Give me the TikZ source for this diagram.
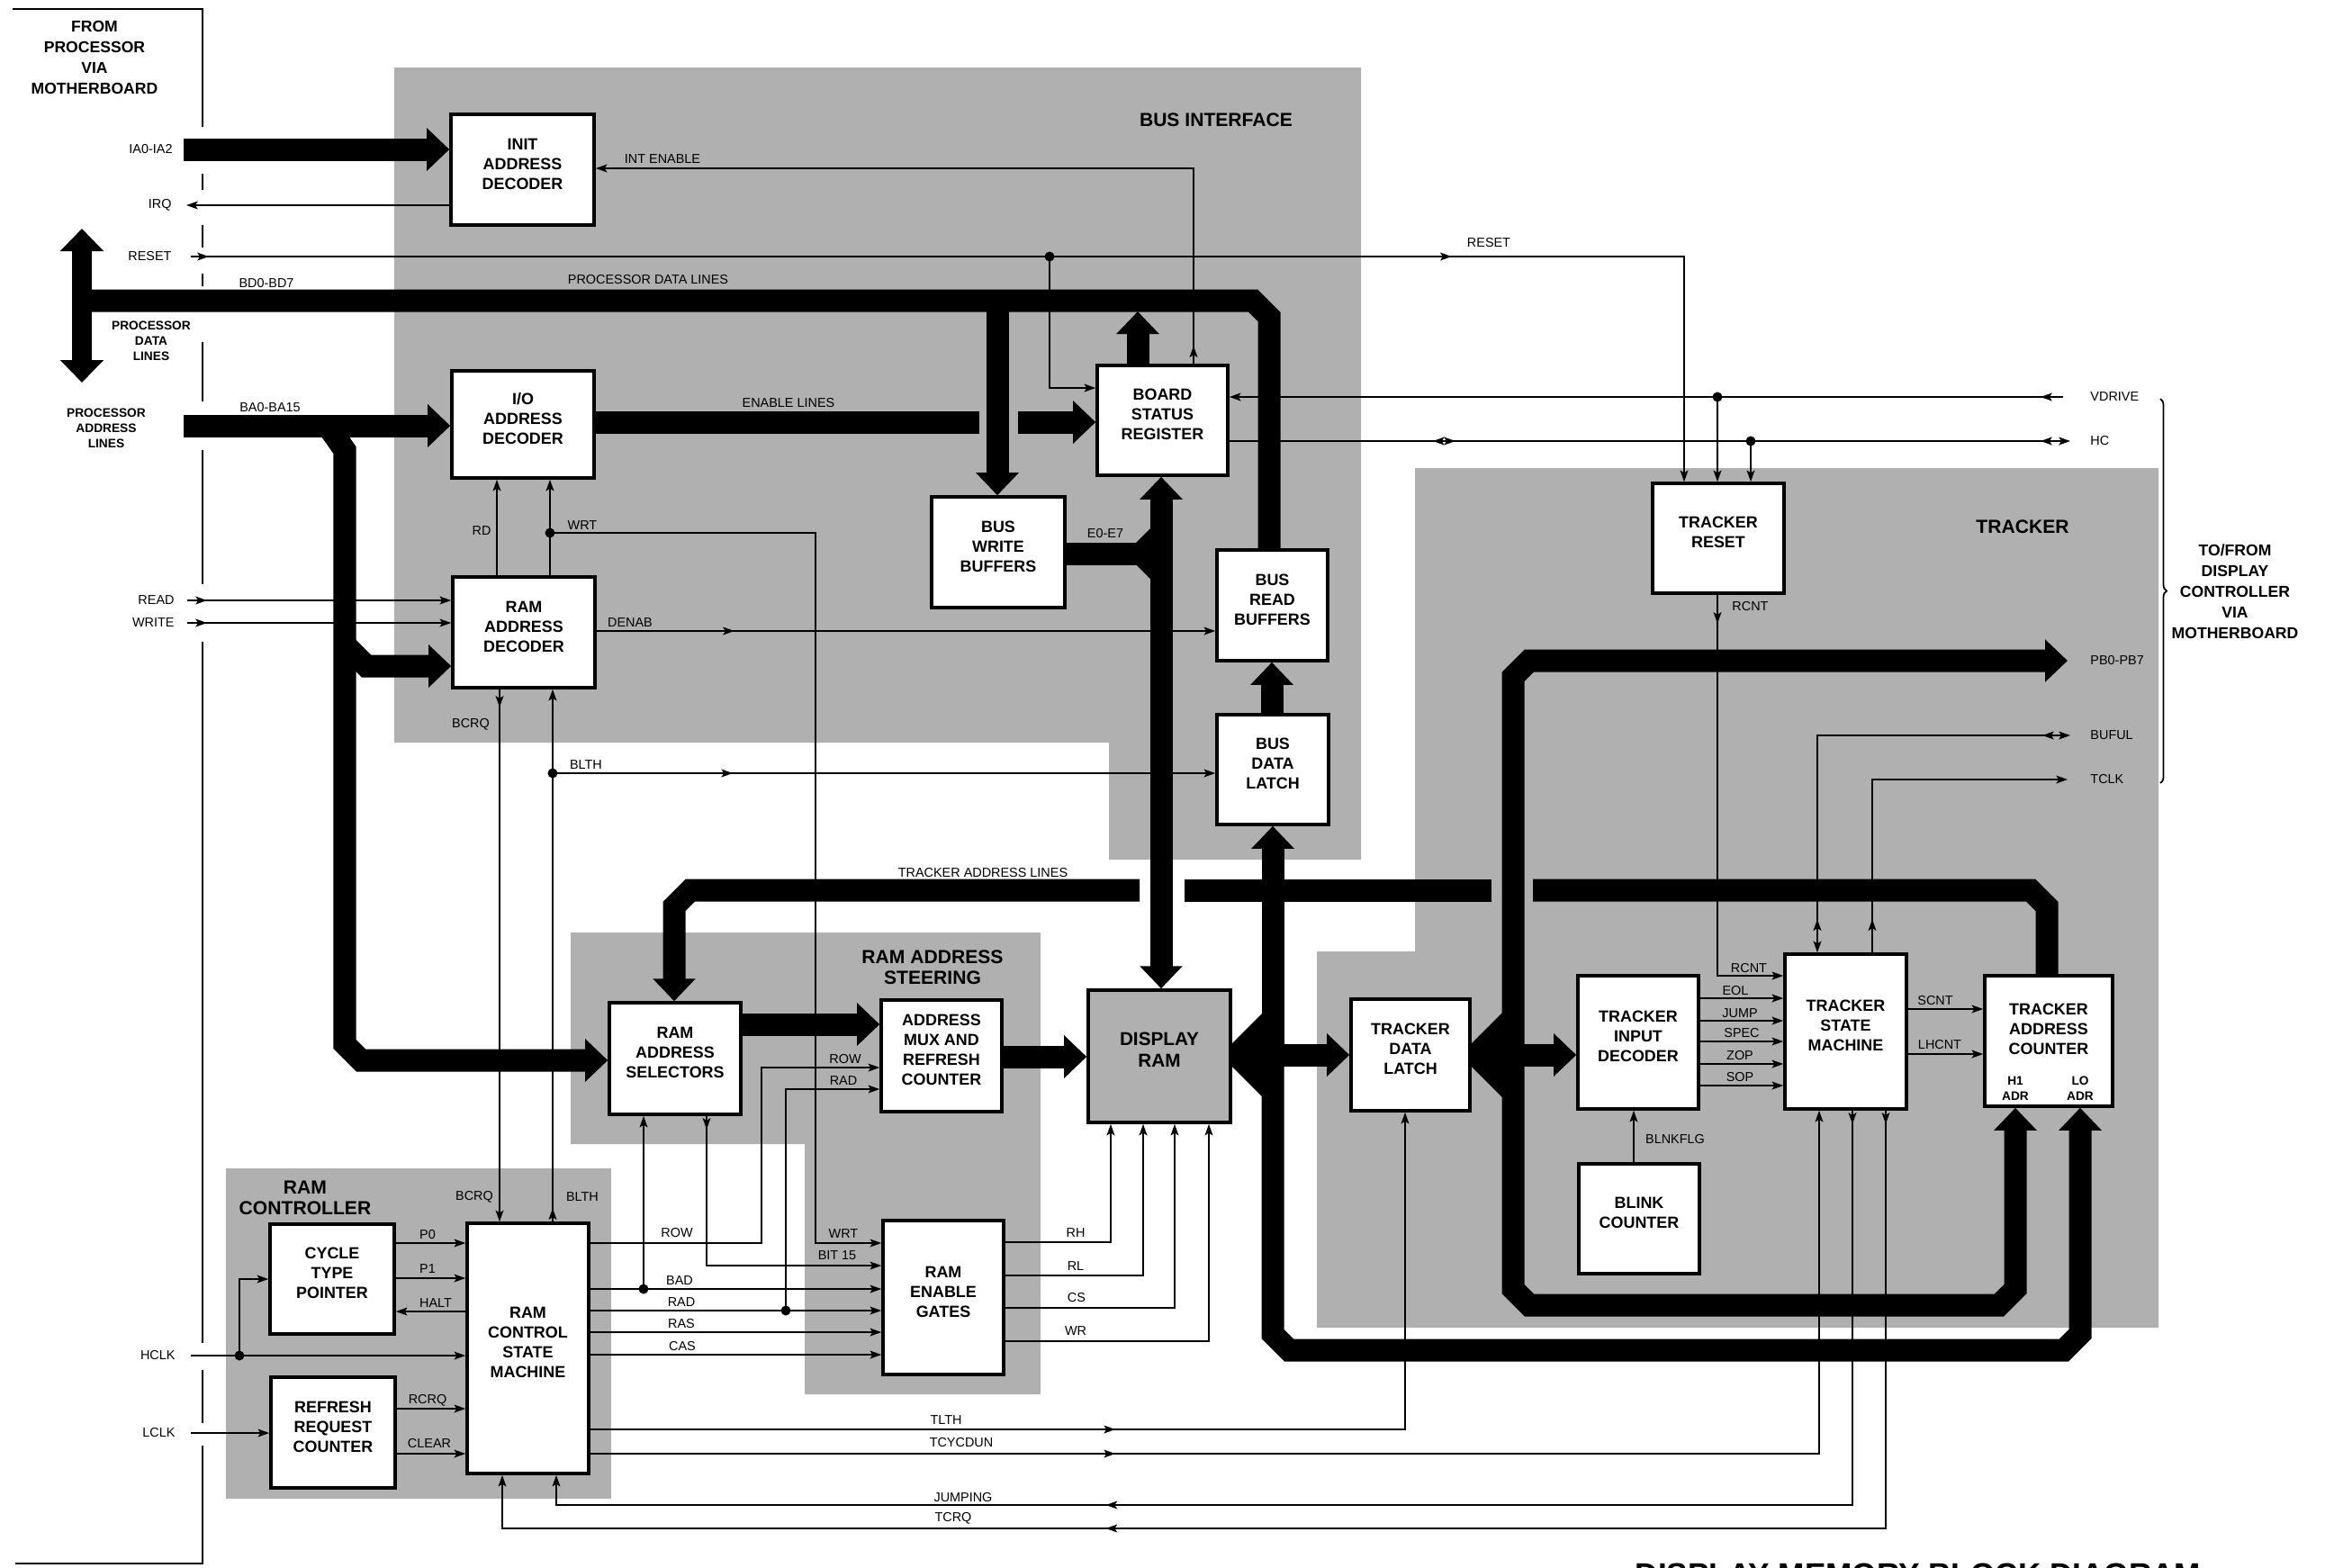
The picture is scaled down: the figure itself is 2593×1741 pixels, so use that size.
\documentclass[tikz,border=0pt]{standalone}
\usepackage{fontspec}
\setmainfont{Liberation Sans}
\usetikzlibrary{arrows.meta,fit,decorations.markings,decorations.pathreplacing}

\newcommand\boxfont{\fontsize{5.1}{6.25}\selectfont\bfseries}
\newcommand\ramfont{\fontsize{5.9}{6.8}\selectfont\bfseries}
\newcommand\sigfont{\fontsize{4.1}{4.9}\selectfont}
\newcommand\secfont{\fontsize{6}{6.6}\selectfont\bfseries}
\newcommand\sidefont{\fontsize{5}{6.5}\selectfont\bfseries}
\newcommand\tinybold{\fontsize{3.9}{4.8}\selectfont\bfseries}

\tikzset{
  panel/.style={fill=black!31},
  blk/.style={draw, line width=1pt, fill=white, inner sep=0pt, align=center, font=\boxfont},
  sig/.style={line width=0.5pt},
  edge/.style={line width=0.7pt},
  bus/.style={line width=0.25cm, line join=miter},
  bust/.style={bus, -{Triangle[width=0.46cm,length=0.25cm]}},
  busdbl/.style={bus, {Triangle[width=0.46cm,length=0.25cm]}-{Triangle[width=0.46cm,length=0.25cm]}},
  dot/.style={circle, fill, inner sep=0pt, minimum size=0.11cm},
  lbl/.style={font=\sigfont, inner sep=0.5pt},
  midarrow/.style={postaction={decorate,decoration={markings,mark=at position #1 with {\arrow{>}}}}},
  midback/.style={postaction={decorate,decoration={markings,mark=at position #1 with {\arrowreversed{>}}}}},
}

\begin{document}
\begin{tikzpicture}[x=0.01cm, y=-0.01cm, >={Stealth[length=3.6pt,width=2.5pt,inset=0.8pt]}]
\useasboundingbox (0,0) rectangle (2593,1741);
\fill[white] (0,0) rectangle (2593,1741);

% shaded sections
\fill[panel] (438,75) -- (1512,75) -- (1512,955) -- (1232,955) -- (1232,825) -- (438,825) -- cycle;
\fill[panel] (1572,520) -- (2398,520) -- (2398,1475) -- (1463,1475) -- (1463,1057) -- (1572,1057) -- cycle;
\fill[panel] (634,1036) -- (1156,1036) -- (1156,1549) -- (894,1549) -- (894,1271) -- (634,1271) -- cycle;
\fill[panel] (251,1298) rectangle (679,1665);

\node[font=\secfont] (t-bus) at (1351,133) {BUS INTERFACE};
\node[font=\secfont] (t-trk) at (2247,585) {TRACKER};
\node[font=\secfont, align=center] (t-steer) at (1036,1075) {RAM ADDRESS\\STEERING};
\node[font=\secfont, align=center] (t-ramc) at (339,1331) {RAM\\CONTROLLER};

% motherboard edge
\draw[edge] (14,10) -- (225,10) -- (225,141);
\foreach \a/\b in {193/211, 250/275, 304/318, 380/446, 500/649, 713/1492, 1522/1581}
  \draw[edge] (225,\a) -- (225,\b);
\draw[edge] (225,1606) -- (225,1737) -- (17,1737);

\node[font=\sidefont, align=center] (from) at (105,64) {FROM\\PROCESSOR\\VIA\\MOTHERBOARD};
\node[font=\sidefont, align=center] (tofrom) at (2483,657) {TO/FROM\\DISPLAY\\CONTROLLER\\VIA\\MOTHERBOARD};
\node[font=\tinybold, align=center] (pdl) at (168,379) {PROCESSOR\\DATA\\LINES};
\node[font=\tinybold, align=center] (pal) at (118,476) {PROCESSOR\\ADDRESS\\LINES};
\draw[sig, decorate, decoration={brace, amplitude=0.07cm}] (2400,443) -- (2400,870);

% blocks
\node[blk, fit={(501,127) (660,250)}] (initdec) {INIT\\ADDRESS\\DECODER};
\node[blk, fit={(502,412) (660,531)}] (iodec) {I/O\\ADDRESS\\DECODER};
\node[blk, fit={(503,641) (661,764)}] (ramdec) {RAM\\ADDRESS\\DECODER};
\node[blk, fit={(1219,406) (1364,528)}] (bsr) {BOARD\\STATUS\\REGISTER};
\node[blk, fit={(1035,552) (1183,675)}] (bwb) {BUS\\WRITE\\BUFFERS};
\node[blk, fit={(1352,611) (1475,734)}] (brb) {BUS\\READ\\BUFFERS};
\node[blk, fit={(1352,794) (1476,916)}] (bdl) {BUS\\DATA\\LATCH};
\node[blk, fit={(1836,537) (1982,659)}] (tres) {TRACKER\\RESET};
\node[blk, fill=black!31, font=\ramfont, fit={(1209,1100) (1367,1247)}] (dram) {DISPLAY\\RAM};
\node[blk, fit={(677,1114) (823,1238)}] (rasel) {RAM\\ADDRESS\\SELECTORS};
\node[blk, fit={(979,1111) (1113,1235)}] (amux) {ADDRESS\\MUX AND\\REFRESH\\COUNTER};
\node[blk, fit={(981,1356) (1115,1527)}] (reg) {RAM\\ENABLE\\GATES};
\node[blk, fit={(300,1360) (438,1482)}] (ctp) {CYCLE\\TYPE\\POINTER};
\node[blk, fit={(301,1530) (439,1653)}] (rrc) {REFRESH\\REQUEST\\COUNTER};
\node[blk, fit={(519,1359) (654,1637)}] (rcsm) {RAM\\CONTROL\\STATE\\MACHINE};
\node[blk, fit={(1501,1110) (1633,1234)}] (tdl) {TRACKER\\DATA\\LATCH};
\node[blk, fit={(1753,1084) (1887,1232)}] (tid) {TRACKER\\INPUT\\DECODER};
\node[blk, fit={(1983,1060) (2118,1232)}] (tsm) {TRACKER\\STATE\\MACHINE};
\node[blk, fit={(2205,1084) (2347,1229)}] (tac) {};
\node[font=\boxfont, align=center] (tac-t) at (2276,1143) {TRACKER\\ADDRESS\\COUNTER};
\node[font=\tinybold, align=center] (tac-h) at (2239,1209) {H1\\ADR};
\node[font=\tinybold, align=center] (tac-l) at (2311,1209) {LO\\ADR};
\node[blk, fit={(1754,1293) (1888,1415)}] (blink) {BLINK\\COUNTER};

% wide buses
\draw[line width=0.22cm, {Triangle[width=0.47cm,length=0.25cm]}-{Triangle[width=0.47cm,length=0.25cm]}] (91,254) -- (91,425);
\draw[bus] (91,334) -- (1392,334) -- (1410,352) -- (brb.north -| 1410,0);
\draw[bust] (1108,334) -- (bwb.north -| 1108,0);
\draw[bust] (bsr.north -| 1264,0) -- (1264,346);
\draw[bust] (204,166) -- (initdec.west |- 0,166);
\draw[bust] (204,473) -- (iodec.west |- 0,473);
\draw[bust] (366,476) -- (383,500) -- (383,1160) -- (401,1178) -- (rasel.west |- 0,1178);
\draw[bust] (383,716) -- (407,740) -- (ramdec.west |- 0,740);
\draw[bus] (iodec.east |- 0,469) -- (1088,469);
\draw[bust] (1131,469) -- (bsr.west |- 0,469);
\draw[bus] (bwb.east |- 0,615) -- (1290,615);
\draw[busdbl] (dram.north -| 1290,0) -- (bsr.south -| 1290,0);
\fill (1262,603) -- (1278,587) -- (1278,603) -- cycle;
\fill (1262,627) -- (1278,643) -- (1278,627) -- cycle;
\draw[bust] (bdl.north -| 1413,0) -- (brb.south -| 1413,0);
\draw[bust] (1414,1172) -- (bdl.south -| 1414,0);
\draw[bust] (1414,1160) -- (1414,1482) -- (1432,1500) -- (2293,1500) -- (2311,1482) -- (tac.south -| 2311,0);
\draw[bust] (dram.east |- 0,1172) -- (tdl.west |- 0,1172);
\fill (1368,1160) -- (1402,1126) -- (1402,1160) -- cycle;
\fill (1368,1184) -- (1402,1218) -- (1402,1184) -- cycle;
\draw[bust] (tdl.east |- 0,1172) -- (tid.west |- 0,1172);
\fill (1634,1160) -- (1669,1125) -- (1669,1160) -- cycle;
\fill (1634,1184) -- (1669,1219) -- (1669,1184) -- cycle;
\draw[bust] (1681,1172) -- (1681,752) -- (1699,734) -- (2297,734);
\draw[bust] (1681,1160) -- (1681,1432) -- (1699,1450) -- (2221,1450) -- (2239,1432) -- (tac.south -| 2239,0);
\draw[bus] (tac.north -| 2274,0) -- (2274,1007) -- (2256,989) -- (1703,989);
\draw[bus] (1657,989) -- (1316,989);
\draw[bust] (1266,989) -- (767,989) -- (749,1007) -- (rasel.north -| 749,0);
\draw[bust] (rasel.east |- 0,1138) -- (amux.west |- 0,1138);
\draw[bust] (amux.east |- 0,1174) -- (dram.west |- 0,1174);

% bus interface signals
\draw[sig,->] (initdec.west |- 0,228) -- (207,228);
\draw[sig,->,midarrow=0.2cm,midarrow=14cm] (212,285) -- (1871,285) -- (tres.north -| 1871,0);
\node[dot] (d-reset) at (1166,285) {};
\draw[sig,->] (d-reset.center) -- (1166,431) -- (bsr.west |- 0,431);
\draw[sig,->,midarrow=0.2cm] (bsr.north -| 1326,0) -- (1326,187) -- (initdec.east |- 0,187);
\draw[sig,->] (ramdec.north -| 552,0) -- (iodec.south -| 552,0);
\draw[sig,->] (ramdec.north -| 611,0) -- (iodec.south -| 611,0);
\node[dot] (d-wrt) at (611,592) {};
\draw[sig,->] (d-wrt.center) -- (906,592) -- (906,1381) -- (reg.west |- 0,1381);
\draw[sig,->,midarrow=0.22cm] (208,667) -- (ramdec.west |- 0,667);
\draw[sig,->,midarrow=0.22cm] (208,692) -- (ramdec.west |- 0,692);
\draw[sig,->,midarrow=1.53cm] (ramdec.east |- 0,701) -- (brb.west |- 0,701);
\draw[sig,->,midarrow=0.2cm] (ramdec.south -| 555,0) -- (rcsm.north -| 555,0);
\draw[sig,->,midarrow=0.15cm] (rcsm.north -| 614,0) -- (ramdec.south -| 614,0);
\node[dot] (d-blth) at (614,859) {};
\draw[sig,->,midarrow=2cm] (d-blth.center) -- (bdl.west |- 0,859);

% display controller signals
\draw[sig,->,midarrow=0.25cm] (2292,441) -- (bsr.east |- 0,441);
\node[dot] (d-vd) at (1908,441) {};
\draw[sig,->] (d-vd.center) -- (tres.north -| 1908,0);
\draw[sig,->,midback=2.26cm,midarrow=2.51cm,midback=-0.33cm] (bsr.east |- 0,490) -- (2300,490);
\node[dot] (d-hc) at (1945,490) {};
\draw[sig,->] (d-hc.center) -- (tres.north -| 1945,0);
\draw[sig,->,midarrow=0.32cm] (tres.south -| 1908,0) -- (1908,1084) -- (tsm.west |- 0,1084);
\draw[sig,<->,midarrow=0.37cm,midback=-0.31cm] (tsm.north -| 2019,0) -- (2019,817) -- (2300,817);
\draw[sig,->,midarrow=0.37cm] (tsm.north -| 2080,0) -- (2080,866) -- (2297,866);

% tracker signals
\foreach \y in {1109,1134,1157,1182,1206}
  \draw[sig,->] (tid.east |- 0,\y) -- (tsm.west |- 0,\y);
\draw[sig,->] (tsm.east |- 0,1121) -- (tac.west |- 0,1121);
\draw[sig,->] (tsm.east |- 0,1171) -- (tac.west |- 0,1171);
\draw[sig,->] (blink.north -| 1815,0) -- (tid.south -| 1815,0);

% ram controller signals
\draw[sig,->] (212,1506) -- (rcsm.west |- 0,1506);
\node[dot] (d-hclk) at (266,1506) {};
\draw[sig,->] (d-hclk.center) -- (266,1421) -- (ctp.west |- 0,1421);
\draw[sig,->] (212,1592) -- (rrc.west |- 0,1592);
\draw[sig,->] (ctp.east |- 0,1381) -- (rcsm.west |- 0,1381);
\draw[sig,->] (ctp.east |- 0,1420) -- (rcsm.west |- 0,1420);
\draw[sig,->] (rcsm.west |- 0,1457) -- (ctp.east |- 0,1457);
\draw[sig,->] (rrc.east |- 0,1565) -- (rcsm.west |- 0,1565);
\draw[sig,->] (rrc.east |- 0,1615) -- (rcsm.west |- 0,1615);

\draw[sig,->] (rcsm.east |- 0,1381) -- (846,1381) -- (846,1186) -- (amux.west |- 0,1186);
\draw[sig,->] (rcsm.east |- 0,1432) -- (reg.west |- 0,1432);
\node[dot] (d-bad) at (715,1432) {};
\draw[sig,->] (d-bad.center) -- (rasel.south -| 715,0);
\draw[sig,->] (rcsm.east |- 0,1456) -- (reg.west |- 0,1456);
\node[dot] (d-rad) at (873,1456) {};
\draw[sig,->] (d-rad.center) -- (873,1210) -- (amux.west |- 0,1210);
\draw[sig,->] (rcsm.east |- 0,1480) -- (reg.west |- 0,1480);
\draw[sig,->] (rcsm.east |- 0,1505) -- (reg.west |- 0,1505);
\draw[sig,->,midarrow=0.15cm] (rasel.south -| 785,0) -- (785,1406) -- (reg.west |- 0,1406);
\foreach \y/\x in {1380/1234, 1417/1270, 1453/1305, 1490/1343}
  \draw[sig,->] (reg.east |- 0,\y) -- (\x,\y) -- (dram.south -| \x,0);

\draw[sig,->,midarrow=5.83cm] (rcsm.east |- 0,1588) -- (1561,1588) -- (tdl.south -| 1561,0);
\draw[sig,->,midarrow=5.83cm] (rcsm.east |- 0,1615) -- (2021,1615) -- (tsm.south -| 2021,0);
\draw[sig,->,midarrow=0.15cm,midarrow=12.67cm] (tsm.south -| 2058,0) -- (2058,1672) -- (618,1672) -- (rcsm.south -| 618,0);
\draw[sig,->,midarrow=0.15cm,midarrow=13.3cm] (tsm.south -| 2095,0) -- (2095,1698) -- (558,1698) -- (rcsm.south -| 558,0);

% signal names
\node[lbl, anchor=east] (l-ia) at (194,166) {IA0-IA2};
\node[lbl, anchor=east] (l-irq) at (193,228) {IRQ};
\node[lbl, anchor=east] (l-reset) at (193,285) {RESET};
\node[lbl, anchor=east] (l-read) at (196,667) {READ};
\node[lbl, anchor=east] (l-write) at (196,692) {WRITE};
\node[lbl, anchor=east] (l-hclk) at (197,1506) {HCLK};
\node[lbl, anchor=east] (l-lclk) at (197,1592) {LCLK};
\node[lbl] (l-bd) at (296,315) {BD0-BD7};
\node[lbl] (l-pdl) at (720,311) {PROCESSOR DATA LINES};
\node[lbl] (l-ba) at (300,453) {BA0-BA15};
\node[lbl] (l-int) at (736,177) {INT ENABLE};
\node[lbl] (l-en) at (876,448) {ENABLE LINES};
\node[lbl] (l-rd) at (535,590) {RD};
\node[lbl] (l-wrt) at (647,584) {WRT};
\node[lbl] (l-denab) at (700,692) {DENAB};
\node[lbl] (l-bcrq) at (523,805) {BCRQ};
\node[lbl] (l-blth) at (651,850) {BLTH};
\node[lbl] (l-e) at (1228,593) {E0-E7};
\node[lbl] (l-reset2) at (1654,270) {RESET};
\node[lbl, anchor=west] (l-vd) at (2320,441) {VDRIVE};
\node[lbl, anchor=west] (l-hc) at (2320,490) {HC};
\node[lbl, anchor=west] (l-pb) at (2320,734) {PB0-PB7};
\node[lbl, anchor=west] (l-buf) at (2320,817) {BUFUL};
\node[lbl, anchor=west] (l-tclk) at (2320,866) {TCLK};
\node[lbl, anchor=west] (l-rcnt) at (1922,674) {RCNT};
\node[lbl] (l-tal) at (1092,970) {TRACKER ADDRESS LINES};
\node[lbl] (l-row2) at (939,1177) {ROW};
\node[lbl] (l-rad2) at (937,1201) {RAD};
\node[lbl] (l-rcnt2) at (1943,1076) {RCNT};
\node[lbl] (l-eol) at (1928,1101) {EOL};
\node[lbl] (l-jump) at (1933,1126) {JUMP};
\node[lbl] (l-spec) at (1935,1148) {SPEC};
\node[lbl] (l-zop) at (1933,1173) {ZOP};
\node[lbl] (l-sop) at (1933,1197) {SOP};
\node[lbl] (l-scnt) at (2150,1112) {SCNT};
\node[lbl] (l-lhcnt) at (2155,1161) {LHCNT};
\node[lbl] (l-blnk) at (1861,1266) {BLNKFLG};
\node[lbl] (l-bcrq2) at (527,1330) {BCRQ};
\node[lbl] (l-blth2) at (647,1330) {BLTH};
\node[lbl] (l-p0) at (475,1372) {P0};
\node[lbl] (l-p1) at (475,1410) {P1};
\node[lbl] (l-halt) at (484,1448) {HALT};
\node[lbl] (l-rcrq) at (475,1556) {RCRQ};
\node[lbl] (l-clear) at (477,1604) {CLEAR};
\node[lbl] (l-row) at (752,1370) {ROW};
\node[lbl] (l-bad) at (755,1423) {BAD};
\node[lbl] (l-rad) at (757,1447) {RAD};
\node[lbl] (l-ras) at (757,1471) {RAS};
\node[lbl] (l-cas) at (758,1496) {CAS};
\node[lbl] (l-wrt2) at (937,1371) {WRT};
\node[lbl] (l-bit) at (930,1395) {BIT 15};
\node[lbl] (l-rh) at (1195,1370) {RH};
\node[lbl] (l-rl) at (1195,1407) {RL};
\node[lbl] (l-cs) at (1196,1442) {CS};
\node[lbl] (l-wr) at (1195,1479) {WR};
\node[lbl] (l-tlth) at (1051,1578) {TLTH};
\node[lbl] (l-tcyc) at (1068,1603) {TCYCDUN};
\node[lbl] (l-jmpg) at (1070,1664) {JUMPING};
\node[lbl] (l-tcrq) at (1059,1687) {TCRQ};

\node[font=\fontsize{10}{11}\selectfont\bfseries, anchor=north, inner sep=0pt] (title) at (2131,1736) {DISPLAY MEMORY BLOCK DIAGRAM};
\end{tikzpicture}
\end{document}
